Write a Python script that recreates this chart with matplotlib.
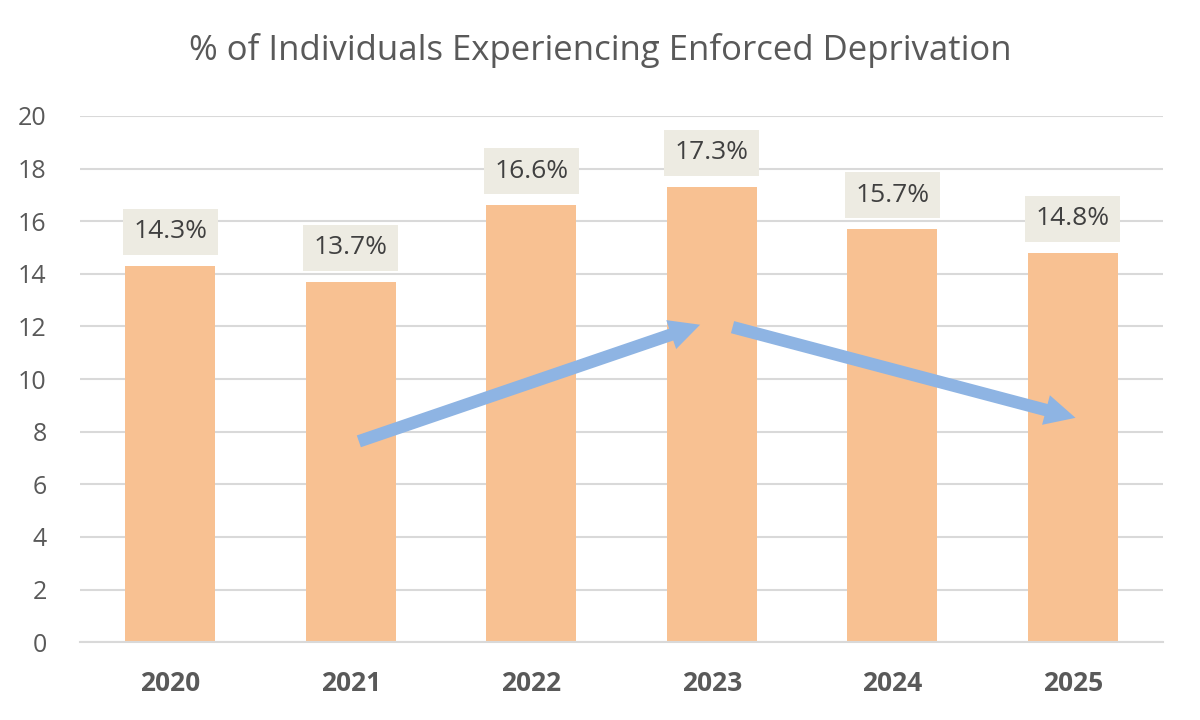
import matplotlib.pyplot as plt

years = ['2020', '2021', '2022', '2023', '2024', '2025']
values = [14.3, 13.7, 16.6, 17.3, 15.7, 14.8]
labels = ['14.3%', '13.7%', '16.6%', '17.3%', '15.7%', '14.8%']

# trend arrows: (x_start, y_start, x_end, y_end) in data units
arrows = [(1.03, 7.6, 2.95, 12.1), (3.1, 12.0, 5.03, 8.5)]

plt.rcParams['font.family'] = ['Open Sans', 'DejaVu Sans']

fig = plt.figure(figsize=(12, 7.2), dpi=100)
ax = fig.add_axes([0.0667, 0.108, 0.9025, 0.731])

x = range(len(years))
ax.bar(x, values, width=0.5, color='#F8C192', zorder=2)

# value labels in grey boxes
for xi, v, lab in zip(x, values, labels):
    ax.annotate(lab, (xi, v), xytext=(0, 15.5), textcoords='offset points',
                ha='center', va='bottom', fontsize=19, color='#404040',
                bbox=dict(boxstyle='square,pad=0.4', fc='#EDEBE2', ec='none'),
                zorder=4)

# arrows
for x0, y0, x1, y1 in arrows:
    ax.annotate('', xy=(x1, y1), xytext=(x0, y0),
                arrowprops=dict(arrowstyle='simple,head_length=1.1,head_width=1.1,tail_width=0.45',
                                fc='#8EB4E3', ec='none', mutation_scale=20),
                zorder=3)

ax.set_xlim(-0.5, 5.5)
ax.set_ylim(0, 20)
ax.set_yticks(range(0, 21, 2))
ax.set_xticks(list(x))
ax.set_xticklabels(years, fontsize=19, fontweight='bold', color='#595959')
ax.tick_params(axis='y', labelsize=18, labelcolor='#595959', length=0, pad=24)
ax.tick_params(axis='x', length=0, pad=20)
ax.grid(axis='y', color='#D9D9D9', linewidth=1.5, zorder=0)
for s in ['top', 'right', 'left']:
    ax.spines[s].set_visible(False)
ax.spines['bottom'].set_color('#D9D9D9')
ax.spines['bottom'].set_linewidth(1.5)

fig.text(0.5, 0.93, '% of Individuals Experiencing Enforced Deprivation',
         ha='center', va='center', fontsize=25, color='#595959')

fig.savefig('out.png', dpi=100, facecolor='white')
